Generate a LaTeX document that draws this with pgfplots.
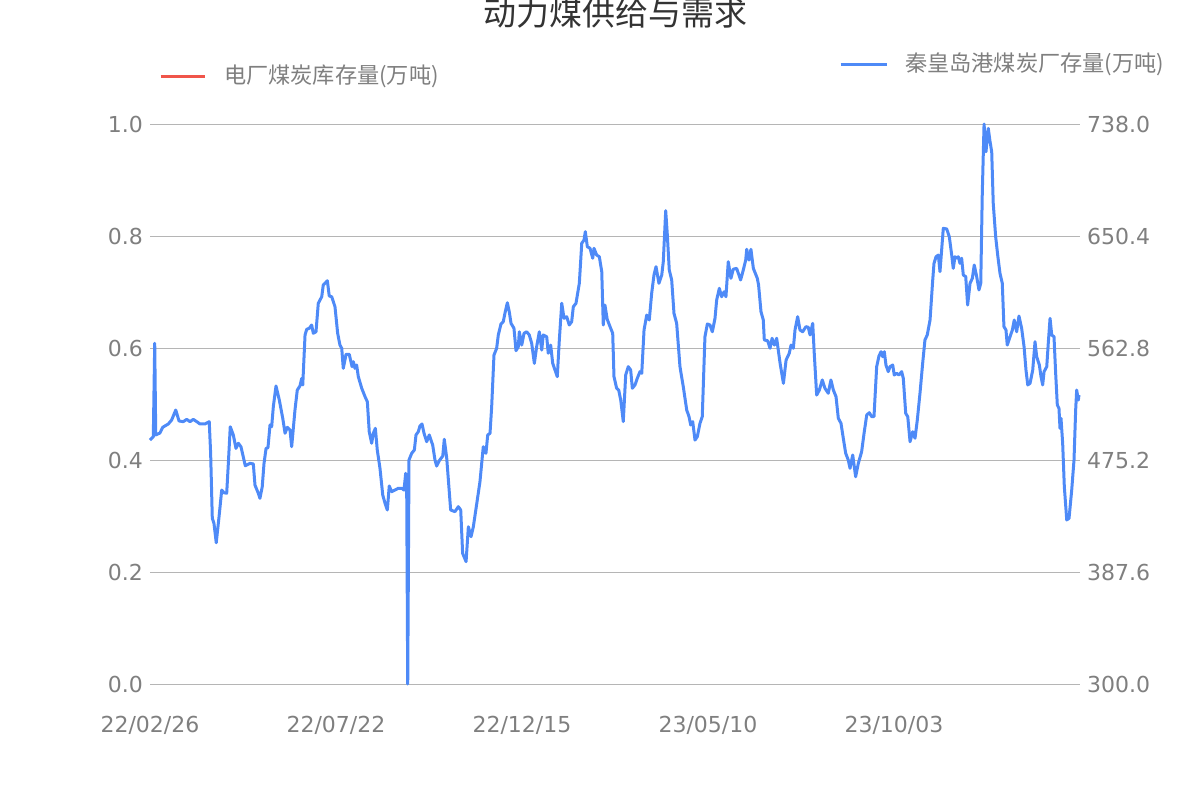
\documentclass[border=0pt]{standalone}
\usepackage{fontspec}
\setmainfont{DejaVu Sans}
\newfontfamily\cjk{Noto Sans CJK SC}
\usepackage{pgfplots}
\pgfplotsset{compat=1.18}
\definecolor{lineblue}{HTML}{4E8AF7}
\definecolor{linered}{HTML}{F0554A}
\definecolor{gridgray}{HTML}{B5B5B5}
\definecolor{txtgray}{HTML}{7F7F7F}
\definecolor{titlegray}{HTML}{333333}
\begin{document}
\begin{tikzpicture}
\path[use as bounding box] (0pt,0pt) rectangle (600pt,400pt);
\begin{axis}[
  at={(75pt,58pt)}, anchor=south west,
  scale only axis, width=465pt, height=280pt,
  xmin=0, xmax=730, ymin=0, ymax=1,
  axis line style={draw=none}, major tick length=0pt,
  ymajorgrids, grid style={gridgray, line width=0.5pt},
  xtick={0,146,292,438,584},
  xticklabels={22/02/26,22/07/22,22/12/15,23/05/10,23/10/03},
  ytick={0,0.2,0.4,0.6,0.8,1.0},
  yticklabels={0.0,0.2,0.4,0.6,0.8,1.0},
  tick label style={font=\fontsize{11}{13}\selectfont, text=txtgray},
  xticklabel style={yshift=-12.5pt},
  legend style={at={(0.0097,1.0857)}, anchor=west, draw=none, fill=none,
    inner sep=0pt, outer sep=0pt, font=\cjk\fontsize{11.1}{13}\selectfont, text=txtgray},
  legend image code/.code={\draw[#1] (0pt,0pt) -- (22pt,0pt); \path (29pt,0pt);},
]
\addlegendimage{linered, line width=1.5pt}
\addlegendentry{电厂煤炭库存量(万吨)}
\end{axis}
\begin{axis}[
  at={(75pt,58pt)}, anchor=south west,
  scale only axis, width=465pt, height=280pt,
  xmin=0, xmax=730, ymin=300, ymax=738,
  axis line style={draw=none}, major tick length=0pt,
  clip=false,
  xtick=\empty,
  yticklabel pos=right,
  ytick={300,387.6,475.2,562.8,650.4,738},
  yticklabels={300.0,387.6,475.2,562.8,650.4,738.0},
  tick label style={font=\fontsize{11}{13}\selectfont, text=txtgray},
  legend style={at={(0.7409,1.1071)}, anchor=west, draw=none, fill=none,
    inner sep=0pt, outer sep=0pt, font=\cjk\fontsize{11.1}{13}\selectfont, text=txtgray},
  legend image code/.code={\draw[#1] (0pt,0pt) -- (23pt,0pt); \path (29.5pt,0pt);},
]
\addplot[lineblue, line width=1.5pt, line join=round] coordinates {
(0,490.8)(2.6,493.4)(3.7,566.5)(4.5,494.8)(7.8,496.3)(10.0,500.8)(14.4,503.4)(17.0,506.5)(20.2,514.3)(22.8,505.7)
(26.1,505.2)(28.8,507.0)(31.4,505.2)(34.0,507.0)(36.7,505.2)(39.2,503.4)(43.2,503.4)(46.5,505.2)(47.6,480.4)(48.9,429.6)
(50.2,425.7)(52.0,410.5)(54.2,430.9)(56.3,451.7)(58.1,449.6)(60.2,449.2)(61.5,472.6)(63.0,501.2)(65.4,494.8)(67.5,484.3)
(69.3,488.3)(71.4,485.6)(74.8,470.7)(78.5,472.6)(81.1,472.1)(82.4,455.6)(85.0,449.2)(86.3,445.2)(88.1,454.3)(89.5,472.6)
(91.1,484.3)(92.6,484.8)(94.2,502.6)(95.5,501.2)(96.8,516.9)(98.9,533.1)(101.5,522.1)(104.2,507.8)(106.0,496.1)(107.8,500.8)
(109.9,498.7)(111.2,485.6)(113.8,514.3)(115.6,529.9)(117.7,533.1)(119.1,539.1)(119.9,533.9)(121.7,573.0)(123.0,577.4)(125.0,578.2)
(126.9,580.8)(128.2,574.3)(130.3,575.5)(132.1,597.8)(134.8,602.9)(136.0,612.1)(139.2,615.4)(140.7,603.5)(142.6,602.9)(145.2,595.1)
(147.3,574.3)(149.1,565.1)(150.5,562.6)(151.7,546.9)(153.9,557.9)(156.4,557.9)(158.6,548.2)(159.6,552.1)(160.9,546.9)(162.2,549.5)
(163.5,540.4)(166.2,531.3)(168.8,524.7)(170.6,520.8)(172.1,497.3)(174.0,488.3)(175.3,496.1)(176.9,500.0)(178.4,483.0)(180.5,468.9)
(182.7,447.8)(184.5,441.3)(186.3,436.1)(187.8,454.9)(189.7,450.4)(192.3,451.7)(194.9,453.1)(197.6,453.1)(199.4,451.7)(200.7,464.8)
(201.5,451.7)(202.3,300.0)(203.3,475.2)(205.4,480.4)(207.5,483.0)(208.8,494.8)(210.6,497.3)(211.9,501.8)(213.5,503.4)(215.1,496.1)
(217.2,489.5)(219.2,494.8)(221.9,486.9)(223.7,475.2)(225.0,470.5)(227.1,474.7)(229.8,478.3)(231.0,491.4)(232.9,476.8)(236.0,436.1)
(239.4,434.8)(242.0,438.7)(243.9,436.1)(245.4,402.2)(248.1,395.7)(249.9,423.0)(252.0,415.2)(253.8,423.0)(256.9,443.9)(259.0,458.2)
(261.6,485.6)(263.7,480.4)(265.1,494.8)(266.9,496.1)(268.2,516.9)(270.0,557.3)(272.1,562.6)(273.4,573.0)(275.5,581.6)(277.3,583.4)
(278.7,590.4)(280.5,598.2)(282.0,591.2)(283.4,582.1)(285.7,578.2)(287.3,560.7)(289.1,563.8)(289.9,575.5)(291.8,565.1)(293.6,574.3)
(295.7,575.5)(297.7,573.0)(299.6,566.5)(301.7,550.8)(303.5,563.8)(305.6,575.5)(307.5,561.2)(308.7,573.0)(311.4,571.6)(312.6,558.7)
(314.5,565.1)(316.1,550.8)(317.9,545.6)(319.7,540.4)(321.3,569.1)(323.2,597.8)(325.0,586.0)(327.1,587.3)(329.1,580.8)(331.0,583.4)
(332.3,595.1)(334.4,597.8)(337.0,613.4)(338.9,644.7)(340.7,647.3)(341.7,653.8)(343.3,642.0)(345.4,640.8)(347.5,633.0)(348.5,640.8)
(350.6,635.5)(352.7,634.2)(354.6,622.5)(355.8,580.8)(357.1,596.4)(358.9,585.2)(361.1,579.5)(363.2,574.3)(364.2,540.4)(366.3,531.3)
(367.9,529.9)(369.5,522.1)(371.5,505.2)(373.4,541.7)(375.4,548.2)(377.3,545.6)(378.6,531.3)(380.7,533.9)(382.5,539.1)(384.6,544.3)
(386.0,543.0)(387.8,576.9)(389.9,588.6)(391.9,584.7)(393.8,605.6)(395.6,619.9)(397.2,626.4)(399.5,613.4)(401.7,619.9)(402.9,630.3)
(404.8,670.2)(406.0,652.5)(407.6,623.8)(409.5,616.0)(411.3,589.9)(413.4,582.1)(416.0,548.2)(418.6,532.5)(421.3,514.3)(423.1,509.1)
(424.4,502.6)(426.0,505.2)(427.8,490.8)(429.6,493.4)(431.7,503.9)(433.5,509.1)(435.6,571.6)(437.5,581.6)(439.6,580.8)(441.4,575.5)
(443.5,586.0)(444.8,600.3)(446.9,609.5)(448.7,602.9)(450.6,606.8)(452.1,602.9)(453.9,630.3)(456.0,617.3)(457.8,624.4)(460.5,625.1)
(463.6,616.0)(465.7,623.8)(467.6,631.6)(468.4,640.0)(470.2,631.6)(471.7,640.0)(473.6,625.1)(476.7,617.3)(477.7,612.1)(479.6,591.2)
(481.4,584.7)(482.2,569.1)(484.8,568.5)(486.7,562.6)(488.3,570.4)(490.1,565.1)(491.9,570.4)(494.6,550.8)(497.2,535.2)(499.3,553.4)
(501.8,558.7)(503.2,565.1)(505.0,562.6)(506.3,576.9)(508.4,587.3)(510.2,576.9)(512.3,575.5)(514.9,579.5)(516.7,579.0)(518.1,573.0)
(520.2,582.1)(521.4,558.7)(523.3,526.0)(525.4,529.9)(527.7,537.8)(529.8,531.3)(532.4,527.4)(534.5,537.8)(536.4,529.9)(538.5,524.7)
(540.3,507.8)(542.4,503.9)(544.2,492.2)(546.1,480.4)(548.1,475.2)(549.5,468.7)(551.6,479.1)(553.9,462.1)(556.0,472.6)(558.6,481.7)
(560.5,496.1)(562.6,510.4)(564.6,512.2)(566.5,509.1)(568.3,509.1)(570.4,548.2)(572.2,556.5)(573.8,559.9)(575.1,556.0)(576.4,559.9)
(577.7,549.5)(579.5,544.3)(580.9,548.2)(583.0,549.5)(584.2,541.7)(586.1,543.0)(587.9,541.7)(590.0,544.3)(591.3,539.1)(593.2,511.7)
(594.8,509.1)(596.6,489.5)(598.7,497.3)(600.5,492.2)(602.3,506.5)(604.4,527.4)(606.5,550.8)(608.3,569.1)(610.1,573.0)(612.3,584.7)
(614.4,616.0)(615.4,629.0)(617.0,634.2)(618.8,635.5)(620.1,622.5)(621.4,639.4)(622.7,656.4)(625.4,655.9)(627.4,649.9)(629.3,635.5)
(630.5,625.1)(631.9,634.2)(633.2,633.0)(634.5,634.2)(635.8,629.0)(637.1,633.0)(638.4,619.9)(640.3,618.6)(641.8,596.4)(643.7,613.4)
(645.5,617.3)(647.0,627.7)(648.9,618.6)(650.7,608.2)(652.1,613.4)(653.3,683.8)(654.7,738.0)(656.2,716.3)(658.0,734.6)(659.4,724.2)
(660.7,716.3)(661.9,676.0)(663.8,649.9)(665.4,635.5)(667.2,621.2)(669.0,613.4)(670.3,579.5)(671.9,576.9)(672.9,565.1)(675.1,571.6)
(676.9,576.9)(678.4,584.7)(680.3,575.5)(682.1,587.8)(684.2,578.2)(686.1,563.8)(687.6,545.6)(689.0,533.9)(690.8,535.2)(692.9,545.6)
(694.7,567.7)(696.0,556.0)(698.1,549.5)(699.4,540.4)(700.7,533.9)(701.8,544.3)(703.9,548.2)(705.1,566.5)(706.5,586.0)(707.8,573.0)
(709.6,571.6)(710.9,543.0)(712.2,518.2)(713.5,515.6)(714.3,500.0)(715.1,507.8)(716.4,488.3)(717.7,454.3)(719.6,428.3)(721.4,429.6)
(723.5,451.7)(725.3,475.2)(726.6,514.3)(727.4,529.9)(728.7,522.1)(729.2,526.0)
};
\addlegendentry{秦皇岛港煤炭厂存量(万吨)}
\end{axis}
\node[anchor=base, font=\cjk\fontsize{16.5}{20}\selectfont, text=titlegray] at (307.5pt,387pt) {动力煤供给与需求};
\end{tikzpicture}
\end{document}
